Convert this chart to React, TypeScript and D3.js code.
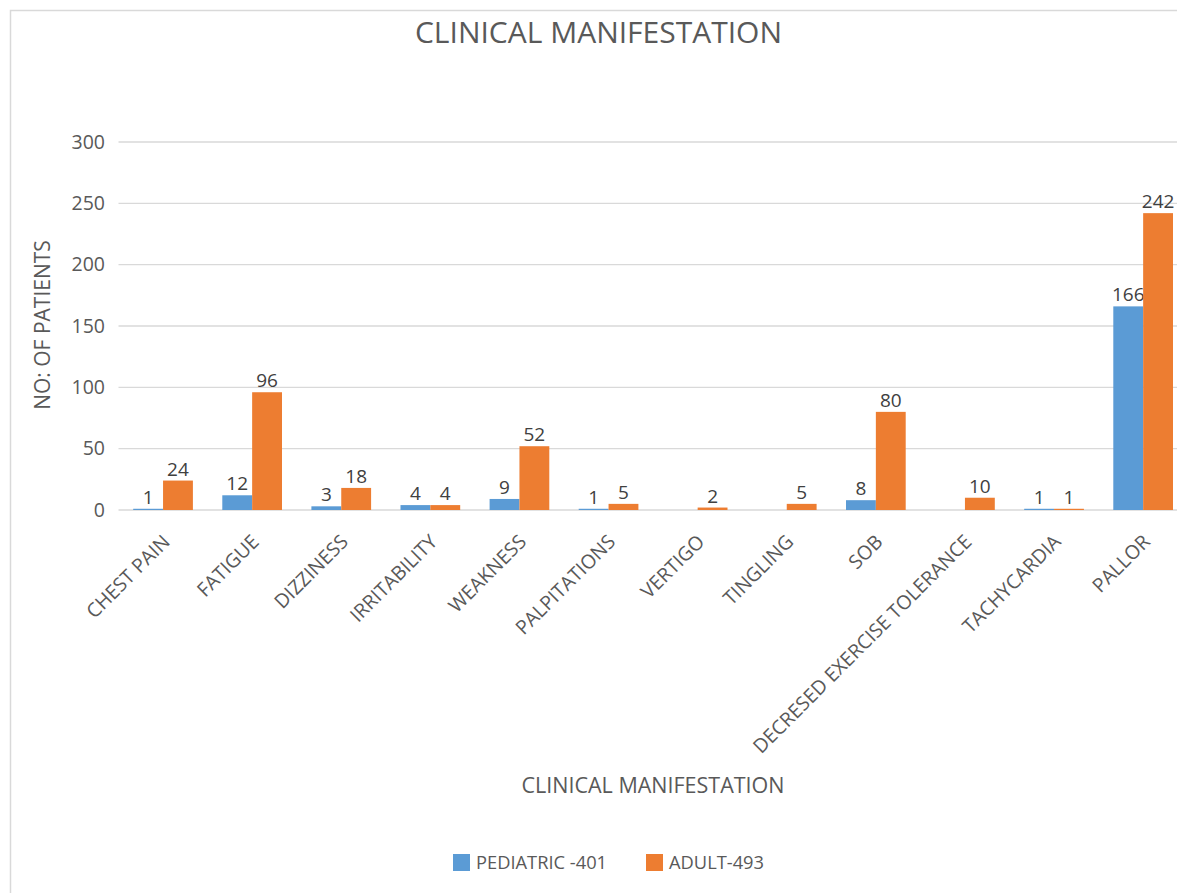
import React from "react";
import * as d3 from "d3";

const categories = [
  "CHEST PAIN",
  "FATIGUE",
  "DIZZINESS",
  "IRRITABILITY",
  "WEAKNESS",
  "PALPITATIONS",
  "VERTIGO",
  "TINGLING",
  "SOB",
  "DECRESED EXERCISE TOLERANCE",
  "TACHYCARDIA",
  "PALLOR",
];
const pediatric: (number | null)[] = [1, 12, 3, 4, 9, 1, null, null, 8, null, 1, 166];
const adult: (number | null)[] = [24, 96, 18, 4, 52, 5, 2, 5, 80, 10, 1, 242];
const seriesNames = ["PEDIATRIC -401", "ADULT-493"];
const seriesColors = ["#5B9BD5", "#ED7D31"];
const yTicks = [0, 50, 100, 150, 200, 250, 300];

const W = 1177;
const H = 893;
const FONT = "'Open Sans', 'Liberation Sans', sans-serif";
const TEXT = "#595959";

export default function App() {
  const plotLeft = 118.5;
  const plotRight = plotLeft + 89.1 * categories.length;
  const plotTop = 142;
  const plotBottom = 510;

  const x = d3.scaleBand<string>().domain(categories).range([plotLeft, plotRight]).paddingInner(0.33).paddingOuter(0.165);
  const inner = d3.scaleBand<number>().domain([0, 1]).range([0, x.bandwidth()]);
  const y = d3.scaleLinear().domain([0, 300]).range([plotBottom, plotTop]);

  const series = [pediatric, adult];

  return (
    <svg width={W} height={H} style={{ position: "absolute", left: 0, top: 0, background: "#fff" }} fontFamily={FONT}>
      <rect x={10.5} y={10.5} width={W + 20} height={H + 20} fill="#fff" stroke="#D9D9D9" strokeWidth={1.5} />
      <text x={598.5} y={43} textAnchor="middle" fontSize={30} fill={TEXT}>CLINICAL MANIFESTATION</text>

      {yTicks.map((t) => (
        <g key={t}>
          <line x1={plotLeft} x2={W} y1={y(t)} y2={y(t)} stroke="#D9D9D9" strokeWidth={1.3} />
          <text x={105} y={y(t)} dy="0.35em" textAnchor="end" fontSize={19.5} fill={TEXT}>{t}</text>
        </g>
      ))}

      <text transform={`translate(50,${(plotTop + plotBottom) / 2 - 1}) rotate(-90)`} textAnchor="middle" fontSize={21} fill={TEXT}>NO: OF PATIENTS</text>

      {series.map((vals, si) =>
        vals.map((v, i) => {
          if (v === null) return null;
          const bx = (x(categories[i]) as number) + (inner(si) as number);
          const bw = inner.bandwidth();
          return (
            <g key={`${si}-${i}`}>
              <rect x={bx} y={y(v)} width={bw} height={Math.max(plotBottom - y(v), 0)} fill={seriesColors[si]} />
              <text x={bx + bw / 2} y={y(v) - 5} textAnchor="middle" fontSize={19} fill="#404040">{v}</text>
            </g>
          );
        })
      )}

      {categories.map((c) => {
        const cx = (x(c) as number) + x.bandwidth() / 2;
        return (
          <text key={c} transform={`translate(${cx + 8},${plotBottom + 33}) rotate(-45)`} textAnchor="end" fontSize={19.5} fill={TEXT}>{c}</text>
        );
      })}

      <text x={653} y={793} textAnchor="middle" fontSize={21.5} fill={TEXT}>CLINICAL MANIFESTATION</text>

      {seriesNames.map((n, i) => {
        const lx = [453, 646][i];
        return (
          <g key={n}>
            <rect x={lx} y={854} width={17} height={17} fill={seriesColors[i]} />
            <text x={lx + 23} y={862.5} dy="0.35em" fontSize={18.3} fill={TEXT}>{n}</text>
          </g>
        );
      })}
    </svg>
  );
}
